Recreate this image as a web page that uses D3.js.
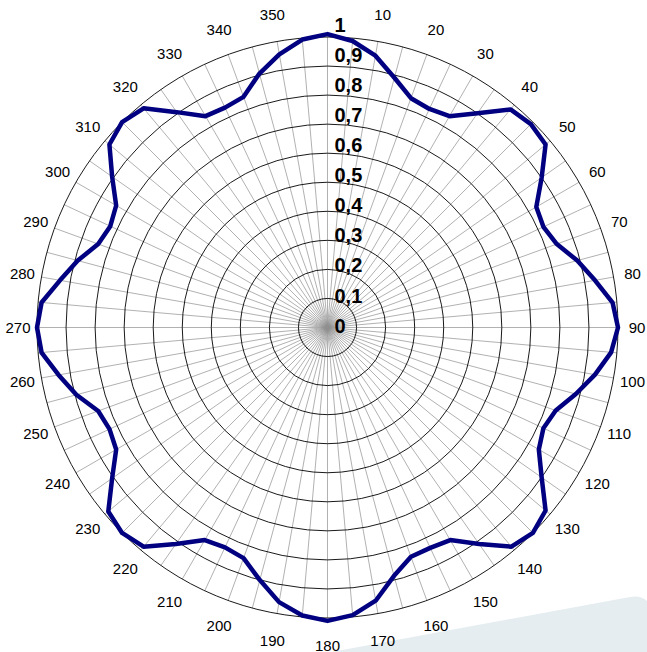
<!DOCTYPE html>
<html>
<head>
<meta charset="utf-8">
<script src="https://cdn.jsdelivr.net/npm/d3@7"></script>
<style>
  html, body { margin: 0; padding: 0; background: #ffffff; }
  svg { display: block; }
  text { font-family: "Liberation Sans", Arial, sans-serif; }
</style>
</head>
<body>
<svg id="chart" width="647" height="652" viewBox="0 0 647 652"></svg>
<script>
// angles in degrees, every 5
var angles = d3.range(0, 360, 5);
// normalised value, one per angle
var values = [
  1.01, 0.99, 0.95, 0.89, 0.84, 0.83, 0.84, 0.90, 0.98,
  0.99, 0.98, 0.90, 0.83, 0.82, 0.84, 0.89, 0.935, 0.985,
  1.0, 0.98, 0.935, 0.885, 0.836, 0.82, 0.84, 0.90, 0.98,
  1.0, 0.985, 0.91, 0.845, 0.837, 0.84, 0.885, 0.955, 0.994,
  1.01, 0.995, 0.96, 0.90, 0.845, 0.835, 0.845, 0.91, 0.985,
  1.0, 0.985, 0.905, 0.84, 0.828, 0.84, 0.895, 0.94, 0.988,
  1.0, 0.988, 0.935, 0.89, 0.84, 0.825, 0.84, 0.905, 0.98,
  1.0, 0.985, 0.905, 0.84, 0.835, 0.845, 0.905, 0.955, 0.995
];
var ringTicks = [0.1, 0.2, 0.3, 0.4, 0.5, 0.6, 0.7, 0.8, 0.9, 1];
var ringLabels = ["0", "0,1", "0,2", "0,3", "0,4", "0,5", "0,6", "0,7", "0,8", "0,9", "1"];
var angleLabels = d3.range(10, 360, 10);

var cx = 327.5, cy = 327.5, R = 290.5;
var svg = d3.select("#chart");

//背景装饰
svg.append("path")
  .attr("d", "M288,660 L630,597 Q647,594 652,610 L652,660 Z")
  .attr("fill", "#e5edf0");

var rScale = d3.scaleLinear().domain([0, 1]).range([0, R]);
var toRad = function (d) { return d * Math.PI / 180; };

var g = svg.append("g").attr("transform", "translate(" + cx + "," + cy + ")");

// spokes
g.selectAll(".spoke")
  .data(angles)
  .enter().append("line")
  .attr("class", "spoke")
  .attr("x1", 0).attr("y1", 0)
  .attr("x2", function (d) { return d3.pointRadial(toRad(d), R)[0]; })
  .attr("y2", function (d) { return d3.pointRadial(toRad(d), R)[1]; })
  .attr("stroke", "#8f8f8f")
  .attr("stroke-width", 0.7);

// rings
g.selectAll(".ring")
  .data(ringTicks)
  .enter().append("circle")
  .attr("class", "ring")
  .attr("r", function (d) { return rScale(d); })
  .attr("fill", "none")
  .attr("stroke", "#000")
  .attr("stroke-width", 0.9);

// data line
var line = d3.lineRadial()
  .angle(function (d) { return toRad(d[0]); })
  .radius(function (d) { return rScale(d[1]); })
  .curve(d3.curveLinearClosed);

g.append("path")
  .datum(angles.map(function (a, i) { return [a, values[i]]; }))
  .attr("d", line)
  .attr("fill", "none")
  .attr("stroke", "#000080")
  .attr("stroke-width", 4.5)
  .attr("stroke-linejoin", "round");

// angle labels, a little closer at the sides
var labelR = function (d) {
  var s = Math.sin(toRad(d));
  return 318 - 8.5 * s * s;
};
g.selectAll(".alabel")
  .data(angleLabels)
  .enter().append("text")
  .attr("class", "alabel")
  .attr("x", function (d) { return d3.pointRadial(toRad(d), labelR(d))[0]; })
  .attr("y", function (d) { return d3.pointRadial(toRad(d), labelR(d))[1]; })
  .attr("text-anchor", "middle")
  .attr("dominant-baseline", "central")
  .attr("font-size", 15)
  .attr("fill", "#000")
  .text(function (d) { return d; });

// radial value labels (Excel spaces them a bit wider than the rings)
var labelY = d3.scaleLinear().domain([0, 1]).range([-2, -2 - rScale(1) * 1.033]);
g.selectAll(".rlabel")
  .data(ringLabels)
  .enter().append("text")
  .attr("class", "rlabel")
  .attr("x", 7)
  .attr("y", function (d, i) { return labelY(i / 10); })
  .attr("dominant-baseline", "central")
  .attr("font-size", 20)
  .attr("font-weight", "bold")
  .attr("fill", "#000")
  .text(function (d) { return d; });
</script>
</body>
</html>
